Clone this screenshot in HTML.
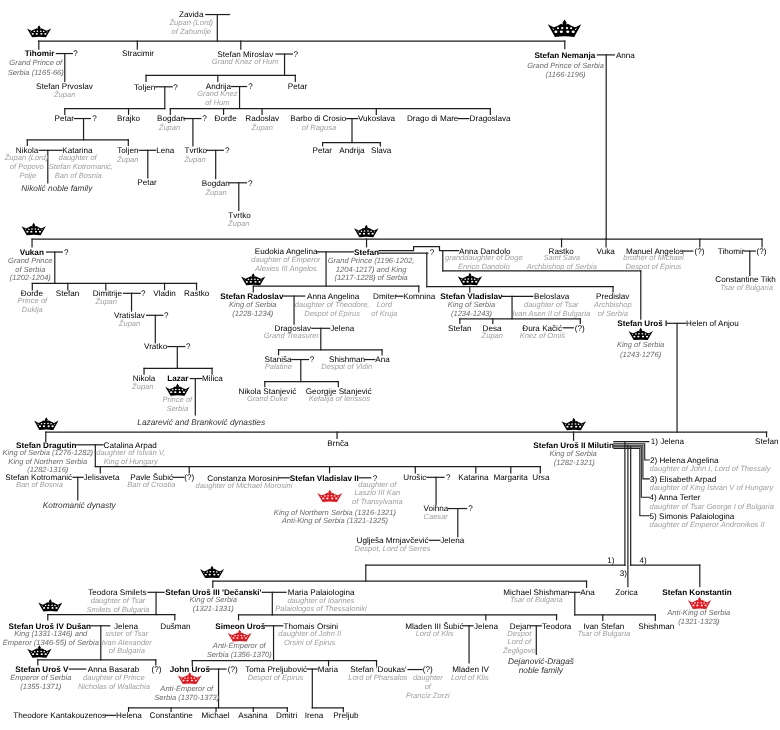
<!DOCTYPE html><html><head><meta charset="utf-8"><style>html,body{margin:0;padding:0;background:#fff;}svg{display:block;filter:blur(0.45px);}text{font-family:"Liberation Sans",sans-serif;text-rendering:geometricPrecision;}.n{font-size:8.12px;fill:#000;}.b{font-size:8.12px;font-weight:bold;fill:#000;}.g{font-size:7.55px;font-style:italic;fill:#a0a0a0;}.r{font-size:7.55px;font-style:italic;fill:#6a6a6a;}.i{font-size:8.3px;font-style:italic;fill:#333;}</style></head><body>
<svg width="780" height="730" viewBox="0 0 780 730">
<rect width="780" height="730" fill="#fff"/>
<g transform="translate(0.3,0.3)">
<g stroke="#1e1e1e" stroke-width="1.2" fill="none" stroke-linecap="square">
<path d="M205.50,14.25H229.25"/>
<path d="M217.00,14.25V40.75"/>
<path d="M38.25,40.75H564.50"/>
<path d="M38.50,40.75V48.75"/>
<path d="M137.00,40.75V48.75"/>
<path d="M240.50,40.75V48.75"/>
<path d="M564.50,40.75V48.25"/>
<path d="M56.00,53.25H72.00"/>
<path d="M64.50,53.25V81.00"/>
<path d="M275.75,53.75H292.00"/>
<path d="M284.25,53.75V75.00"/>
<path d="M145.75,75.00H295.00"/>
<path d="M145.75,75.00V81.00"/>
<path d="M217.50,75.00V81.00"/>
<path d="M295.00,75.00V81.00"/>
<path d="M155.00,86.50H172.00"/>
<path d="M164.50,86.50V108.25"/>
<path d="M64.50,108.25H164.50"/>
<path d="M64.50,108.25V114.00"/>
<path d="M128.25,108.25V114.00"/>
<path d="M231.25,86.25H246.25"/>
<path d="M239.25,86.25V108.25"/>
<path d="M170.00,108.25H490.00"/>
<path d="M170.00,108.25V114.00"/>
<path d="M223.25,108.25V114.00"/>
<path d="M261.75,108.25V114.00"/>
<path d="M376.00,108.25V114.00"/>
<path d="M490.00,108.25V114.00"/>
<path d="M74.25,118.25H90.00"/>
<path d="M83.25,118.25V139.50"/>
<path d="M27.00,139.50H128.00"/>
<path d="M27.00,139.50V145.00"/>
<path d="M128.00,139.50V145.00"/>
<path d="M183.70,118.25H200.60"/>
<path d="M192.60,118.25V145.60"/>
<path d="M346.50,118.30H357.50"/>
<path d="M351.70,118.30V142.30"/>
<path d="M322.30,142.30H380.00"/>
<path d="M322.30,142.30V145.50"/>
<path d="M380.00,142.30V145.50"/>
<path d="M458.00,118.30H468.50"/>
<path d="M39.00,150.00H61.50"/>
<path d="M47.50,150.00V182.50"/>
<path d="M139.00,150.00H155.50"/>
<path d="M147.50,150.00V177.50"/>
<path d="M206.50,150.00H223.00"/>
<path d="M215.40,150.00V178.30"/>
<path d="M229.00,182.50H246.20"/>
<path d="M238.50,182.50V210.00"/>
<path d="M597.00,54.60H614.00"/>
<path d="M605.90,54.60V238.75"/>
<path d="M31.75,238.75H761.75"/>
<path d="M31.75,238.75V246.50"/>
<path d="M366.25,238.75V246.50"/>
<path d="M561.25,238.75V246.50"/>
<path d="M605.75,238.75V246.50"/>
<path d="M699.50,238.75V246.50"/>
<path d="M761.75,238.75V246.50"/>
<path d="M46.25,251.75H62.00"/>
<path d="M54.50,251.75V283.00"/>
<path d="M32.00,283.00H196.25"/>
<path d="M32.00,283.00V289.50"/>
<path d="M67.50,283.00V289.50"/>
<path d="M105.50,283.00V289.50"/>
<path d="M164.25,283.00V289.50"/>
<path d="M196.25,283.00V289.50"/>
<path d="M123.25,293.00H140.00"/>
<path d="M131.25,293.00V310.75"/>
<path d="M146.25,315.00H162.50"/>
<path d="M155.00,315.00V342.50"/>
<path d="M167.50,346.25H184.50"/>
<path d="M177.00,346.25V368.00"/>
<path d="M143.75,368.00H211.75"/>
<path d="M143.75,368.00V373.75"/>
<path d="M211.75,368.00V373.75"/>
<path d="M190.00,378.25H201.25"/>
<path d="M195.00,378.25V414.50"/>
<path d="M316.50,251.50H353.00"/>
<path d="M325.75,251.50V285.75"/>
<path d="M253.00,285.75H418.50"/>
<path d="M253.00,285.75V291.50"/>
<path d="M418.50,285.75V291.50"/>
<path d="M378.7,250.4 H413.3 V246.4 H439.2 V250.4 H458.3"/>
<path d="M378.70,252.80H427.50"/>
<path d="M426.50,252.80V286.25"/>
<path d="M426.50,286.25H612.75"/>
<path d="M469.50,286.25V291.50"/>
<path d="M612.75,286.25V291.50"/>
<path d="M442.50,250.40V270.50"/>
<path d="M442.50,270.50H640.50"/>
<path d="M640.50,270.50V318.75"/>
<path d="M682.50,250.75H692.50"/>
<path d="M743.75,250.75H755.00"/>
<path d="M749.50,250.75V275.00"/>
<path d="M283.50,295.75H304.50"/>
<path d="M293.75,295.75V323.75"/>
<path d="M395.80,295.90H402.30"/>
<path d="M502.30,296.00H532.50"/>
<path d="M511.75,296.00V318.50"/>
<path d="M459.50,318.50H580.00"/>
<path d="M459.50,318.50V323.00"/>
<path d="M492.50,318.50V323.00"/>
<path d="M580.00,318.50V323.00"/>
<path d="M563.00,327.50H573.00"/>
<path d="M667.30,323.00H685.30"/>
<path d="M676.75,323.00V431.75"/>
<path d="M311.50,328.00H329.25"/>
<path d="M320.50,328.00V349.50"/>
<path d="M278.25,349.50H381.75"/>
<path d="M278.25,349.50V354.50"/>
<path d="M381.75,349.50V354.50"/>
<path d="M291.50,359.25H308.25"/>
<path d="M300.50,359.25V381.25"/>
<path d="M264.50,381.25H338.00"/>
<path d="M264.50,381.25V386.25"/>
<path d="M338.00,381.25V386.25"/>
<path d="M364.50,359.25H374.50"/>
<path d="M45.50,431.75H766.25"/>
<path d="M45.50,431.75V441.00"/>
<path d="M336.75,431.75V438.00"/>
<path d="M573.25,431.75V440.00"/>
<path d="M766.25,431.75V436.50"/>
<path d="M76.50,444.50H102.75"/>
<path d="M95.00,444.50V466.25"/>
<path d="M95.00,466.25H540.00"/>
<path d="M100.00,466.25V472.50"/>
<path d="M188.90,466.25V472.50"/>
<path d="M329.25,466.25V472.50"/>
<path d="M415.00,466.25V472.50"/>
<path d="M475.50,466.25V472.50"/>
<path d="M510.50,466.25V472.50"/>
<path d="M540.00,466.25V472.50"/>
<path d="M72.75,477.00H82.75"/>
<path d="M77.50,477.00V499.50"/>
<path d="M172.75,477.00H183.50"/>
<path d="M278.30,477.50H288.90"/>
<path d="M359.00,477.50H370.50"/>
<path d="M426.50,477.00H443.75"/>
<path d="M435.75,477.00V504.50"/>
<path d="M448.30,508.25H466.25"/>
<path d="M457.50,508.25V536.25"/>
<path d="M429.00,540.00H439.50"/>
<path d="M613.50,441.30H648.50" stroke-width="1.1"/>
<path d="M613.5,443.5 H644.4 V459.7 H649" stroke-width="1.1"/>
<path d="M613.5,445.0 H642.6 V478.6 H649" stroke-width="1.1"/>
<path d="M613.5,446.6 H641.0 V497.0 H649" stroke-width="1.1"/>
<path d="M613.5,448.2 H639.5 V515.5 H649" stroke-width="1.1"/>
<path d="M624.60,441.30V565.20" stroke-width="1.2"/>
<path d="M627.60,445.00V586.25" stroke-width="1.2"/>
<path d="M630.40,446.60V565.20" stroke-width="1.2"/>
<path d="M365.50,564.75H624.60"/>
<path d="M630.40,564.75H699.50"/>
<path d="M699.50,564.75V586.25"/>
<path d="M365.50,564.75V580.90"/>
<path d="M212.50,580.90H586.25"/>
<path d="M212.50,580.90V587.00"/>
<path d="M586.25,580.90V587.00"/>
<path d="M147.75,592.00H163.75"/>
<path d="M155.75,592.00V614.25"/>
<path d="M47.50,614.25H174.50"/>
<path d="M47.50,614.25V619.50"/>
<path d="M174.50,614.25V619.50"/>
<path d="M262.00,592.00H285.75"/>
<path d="M272.00,592.00V614.50"/>
<path d="M238.25,614.50H556.25"/>
<path d="M238.25,614.50V619.50"/>
<path d="M485.50,614.50V619.50"/>
<path d="M556.25,614.50V619.50"/>
<path d="M569.50,592.00H579.50"/>
<path d="M574.50,592.00V614.50"/>
<path d="M574.50,614.50H655.00"/>
<path d="M602.50,614.50V620.00"/>
<path d="M655.00,614.50V620.00"/>
<path d="M90.75,625.50H109.50"/>
<path d="M100.50,625.50V659.50"/>
<path d="M37.50,659.50H155.50"/>
<path d="M37.50,659.50V664.50"/>
<path d="M155.50,659.50V664.50"/>
<path d="M69.00,668.75H85.50"/>
<path d="M264.75,625.50H282.50"/>
<path d="M273.25,625.50V660.25"/>
<path d="M192.00,660.25H376.25"/>
<path d="M192.00,660.25V665.50"/>
<path d="M328.25,660.25V665.50"/>
<path d="M376.25,660.25V665.50"/>
<path d="M462.75,625.50H472.75"/>
<path d="M468.75,625.50V662.50"/>
<path d="M530.25,625.50H541.00"/>
<path d="M536.00,625.50V654.00"/>
<path d="M209.50,668.75H225.75"/>
<path d="M218.25,668.75V707.50"/>
<path d="M128.25,707.50H287.00"/>
<path d="M128.25,707.50V711.00"/>
<path d="M170.75,707.50V711.00"/>
<path d="M215.75,707.50V711.00"/>
<path d="M253.00,707.50V711.00"/>
<path d="M287.00,707.50V711.00"/>
<path d="M105.25,715.00H115.25"/>
<path d="M307.00,668.75H317.00"/>
<path d="M312.00,668.75V707.50"/>
<path d="M312.00,707.50H343.00"/>
<path d="M343.00,707.50V711.25"/>
<path d="M407.75,669.25H421.75"/>
</g>
<g transform="translate(26.70,25.00) scale(1.0042,1.0000)" fill="#000"><path d="M0,3.2 L3.4,5.0 L4.6,5.4 L5.8,4.8 L7.2,4.3 L8.6,3.4 L9.8,3.0 L11.0,3.6 L10.5,2.3 L12,0 L13.5,2.3 L13.0,3.6 L14.2,3.0 L15.4,3.4 L16.8,4.3 L18.2,4.8 L19.4,5.4 L20.6,5.0 L24,3.2 L18.9,12 Q12,11.1 5.1,12 Z"/><g fill="#fff"><ellipse cx="5.8" cy="8.5" rx="1.1" ry="0.85"/><ellipse cx="9.7" cy="8.5" rx="1.1" ry="0.85"/><ellipse cx="14.3" cy="8.5" rx="1.1" ry="0.85"/><ellipse cx="18.2" cy="8.5" rx="1.1" ry="0.85"/><ellipse cx="7.3" cy="6.1" rx="0.8" ry="0.7"/><ellipse cx="10.3" cy="5.9" rx="0.85" ry="0.75"/><ellipse cx="13.7" cy="5.9" rx="0.85" ry="0.75"/><ellipse cx="16.7" cy="6.1" rx="0.8" ry="0.7"/><path d="M3.2,5.6 L4.6,6.9 L3.9,7.3 Z"/><path d="M20.8,5.6 L19.4,6.9 L20.1,7.3 Z"/></g></g>
<g transform="translate(547.50,19.20) scale(1.3958,1.4500)" fill="#000"><path d="M0,3.2 L3.4,5.0 L4.6,5.4 L5.8,4.8 L7.2,4.3 L8.6,3.4 L9.8,3.0 L11.0,3.6 L10.5,2.3 L12,0 L13.5,2.3 L13.0,3.6 L14.2,3.0 L15.4,3.4 L16.8,4.3 L18.2,4.8 L19.4,5.4 L20.6,5.0 L24,3.2 L18.9,12 Q12,11.1 5.1,12 Z"/><g fill="#fff"><ellipse cx="5.8" cy="8.5" rx="1.1" ry="0.85"/><ellipse cx="9.7" cy="8.5" rx="1.1" ry="0.85"/><ellipse cx="14.3" cy="8.5" rx="1.1" ry="0.85"/><ellipse cx="18.2" cy="8.5" rx="1.1" ry="0.85"/><ellipse cx="7.3" cy="6.1" rx="0.8" ry="0.7"/><ellipse cx="10.3" cy="5.9" rx="0.85" ry="0.75"/><ellipse cx="13.7" cy="5.9" rx="0.85" ry="0.75"/><ellipse cx="16.7" cy="6.1" rx="0.8" ry="0.7"/><path d="M3.2,5.6 L4.6,6.9 L3.9,7.3 Z"/><path d="M20.8,5.6 L19.4,6.9 L20.1,7.3 Z"/></g></g>
<g transform="translate(21.25,222.50) scale(1.0104,1.0417)" fill="#000"><path d="M0,3.2 L3.4,5.0 L4.6,5.4 L5.8,4.8 L7.2,4.3 L8.6,3.4 L9.8,3.0 L11.0,3.6 L10.5,2.3 L12,0 L13.5,2.3 L13.0,3.6 L14.2,3.0 L15.4,3.4 L16.8,4.3 L18.2,4.8 L19.4,5.4 L20.6,5.0 L24,3.2 L18.9,12 Q12,11.1 5.1,12 Z"/><g fill="#fff"><ellipse cx="5.8" cy="8.5" rx="1.1" ry="0.85"/><ellipse cx="9.7" cy="8.5" rx="1.1" ry="0.85"/><ellipse cx="14.3" cy="8.5" rx="1.1" ry="0.85"/><ellipse cx="18.2" cy="8.5" rx="1.1" ry="0.85"/><ellipse cx="7.3" cy="6.1" rx="0.8" ry="0.7"/><ellipse cx="10.3" cy="5.9" rx="0.85" ry="0.75"/><ellipse cx="13.7" cy="5.9" rx="0.85" ry="0.75"/><ellipse cx="16.7" cy="6.1" rx="0.8" ry="0.7"/><path d="M3.2,5.6 L4.6,6.9 L3.9,7.3 Z"/><path d="M20.8,5.6 L19.4,6.9 L20.1,7.3 Z"/></g></g>
<g transform="translate(165.00,383.25) scale(1.0208,1.0208)" fill="#000"><path d="M0,3.2 L3.4,5.0 L4.6,5.4 L5.8,4.8 L7.2,4.3 L8.6,3.4 L9.8,3.0 L11.0,3.6 L10.5,2.3 L12,0 L13.5,2.3 L13.0,3.6 L14.2,3.0 L15.4,3.4 L16.8,4.3 L18.2,4.8 L19.4,5.4 L20.6,5.0 L24,3.2 L18.9,12 Q12,11.1 5.1,12 Z"/><g fill="#fff"><ellipse cx="5.8" cy="8.5" rx="1.1" ry="0.85"/><ellipse cx="9.7" cy="8.5" rx="1.1" ry="0.85"/><ellipse cx="14.3" cy="8.5" rx="1.1" ry="0.85"/><ellipse cx="18.2" cy="8.5" rx="1.1" ry="0.85"/><ellipse cx="7.3" cy="6.1" rx="0.8" ry="0.7"/><ellipse cx="10.3" cy="5.9" rx="0.85" ry="0.75"/><ellipse cx="13.7" cy="5.9" rx="0.85" ry="0.75"/><ellipse cx="16.7" cy="6.1" rx="0.8" ry="0.7"/><path d="M3.2,5.6 L4.6,6.9 L3.9,7.3 Z"/><path d="M20.8,5.6 L19.4,6.9 L20.1,7.3 Z"/></g></g>
<g transform="translate(353.75,224.50) scale(1.0208,1.0417)" fill="#000"><path d="M0,3.2 L3.4,5.0 L4.6,5.4 L5.8,4.8 L7.2,4.3 L8.6,3.4 L9.8,3.0 L11.0,3.6 L10.5,2.3 L12,0 L13.5,2.3 L13.0,3.6 L14.2,3.0 L15.4,3.4 L16.8,4.3 L18.2,4.8 L19.4,5.4 L20.6,5.0 L24,3.2 L18.9,12 Q12,11.1 5.1,12 Z"/><g fill="#fff"><ellipse cx="5.8" cy="8.5" rx="1.1" ry="0.85"/><ellipse cx="9.7" cy="8.5" rx="1.1" ry="0.85"/><ellipse cx="14.3" cy="8.5" rx="1.1" ry="0.85"/><ellipse cx="18.2" cy="8.5" rx="1.1" ry="0.85"/><ellipse cx="7.3" cy="6.1" rx="0.8" ry="0.7"/><ellipse cx="10.3" cy="5.9" rx="0.85" ry="0.75"/><ellipse cx="13.7" cy="5.9" rx="0.85" ry="0.75"/><ellipse cx="16.7" cy="6.1" rx="0.8" ry="0.7"/><path d="M3.2,5.6 L4.6,6.9 L3.9,7.3 Z"/><path d="M20.8,5.6 L19.4,6.9 L20.1,7.3 Z"/></g></g>
<g transform="translate(240.75,273.00) scale(1.0104,1.0000)" fill="#000"><path d="M0,3.2 L3.4,5.0 L4.6,5.4 L5.8,4.8 L7.2,4.3 L8.6,3.4 L9.8,3.0 L11.0,3.6 L10.5,2.3 L12,0 L13.5,2.3 L13.0,3.6 L14.2,3.0 L15.4,3.4 L16.8,4.3 L18.2,4.8 L19.4,5.4 L20.6,5.0 L24,3.2 L18.9,12 Q12,11.1 5.1,12 Z"/><g fill="#fff"><ellipse cx="5.8" cy="8.5" rx="1.1" ry="0.85"/><ellipse cx="9.7" cy="8.5" rx="1.1" ry="0.85"/><ellipse cx="14.3" cy="8.5" rx="1.1" ry="0.85"/><ellipse cx="18.2" cy="8.5" rx="1.1" ry="0.85"/><ellipse cx="7.3" cy="6.1" rx="0.8" ry="0.7"/><ellipse cx="10.3" cy="5.9" rx="0.85" ry="0.75"/><ellipse cx="13.7" cy="5.9" rx="0.85" ry="0.75"/><ellipse cx="16.7" cy="6.1" rx="0.8" ry="0.7"/><path d="M3.2,5.6 L4.6,6.9 L3.9,7.3 Z"/><path d="M20.8,5.6 L19.4,6.9 L20.1,7.3 Z"/></g></g>
<g transform="translate(457.50,272.50) scale(1.0104,1.0417)" fill="#000"><path d="M0,3.2 L3.4,5.0 L4.6,5.4 L5.8,4.8 L7.2,4.3 L8.6,3.4 L9.8,3.0 L11.0,3.6 L10.5,2.3 L12,0 L13.5,2.3 L13.0,3.6 L14.2,3.0 L15.4,3.4 L16.8,4.3 L18.2,4.8 L19.4,5.4 L20.6,5.0 L24,3.2 L18.9,12 Q12,11.1 5.1,12 Z"/><g fill="#fff"><ellipse cx="5.8" cy="8.5" rx="1.1" ry="0.85"/><ellipse cx="9.7" cy="8.5" rx="1.1" ry="0.85"/><ellipse cx="14.3" cy="8.5" rx="1.1" ry="0.85"/><ellipse cx="18.2" cy="8.5" rx="1.1" ry="0.85"/><ellipse cx="7.3" cy="6.1" rx="0.8" ry="0.7"/><ellipse cx="10.3" cy="5.9" rx="0.85" ry="0.75"/><ellipse cx="13.7" cy="5.9" rx="0.85" ry="0.75"/><ellipse cx="16.7" cy="6.1" rx="0.8" ry="0.7"/><path d="M3.2,5.6 L4.6,6.9 L3.9,7.3 Z"/><path d="M20.8,5.6 L19.4,6.9 L20.1,7.3 Z"/></g></g>
<g transform="translate(628.20,327.50) scale(1.0167,1.0250)" fill="#000"><path d="M0,3.2 L3.4,5.0 L4.6,5.4 L5.8,4.8 L7.2,4.3 L8.6,3.4 L9.8,3.0 L11.0,3.6 L10.5,2.3 L12,0 L13.5,2.3 L13.0,3.6 L14.2,3.0 L15.4,3.4 L16.8,4.3 L18.2,4.8 L19.4,5.4 L20.6,5.0 L24,3.2 L18.9,12 Q12,11.1 5.1,12 Z"/><g fill="#fff"><ellipse cx="5.8" cy="8.5" rx="1.1" ry="0.85"/><ellipse cx="9.7" cy="8.5" rx="1.1" ry="0.85"/><ellipse cx="14.3" cy="8.5" rx="1.1" ry="0.85"/><ellipse cx="18.2" cy="8.5" rx="1.1" ry="0.85"/><ellipse cx="7.3" cy="6.1" rx="0.8" ry="0.7"/><ellipse cx="10.3" cy="5.9" rx="0.85" ry="0.75"/><ellipse cx="13.7" cy="5.9" rx="0.85" ry="0.75"/><ellipse cx="16.7" cy="6.1" rx="0.8" ry="0.7"/><path d="M3.2,5.6 L4.6,6.9 L3.9,7.3 Z"/><path d="M20.8,5.6 L19.4,6.9 L20.1,7.3 Z"/></g></g>
<g transform="translate(33.80,416.90) scale(1.0167,1.0667)" fill="#000"><path d="M0,3.2 L3.4,5.0 L4.6,5.4 L5.8,4.8 L7.2,4.3 L8.6,3.4 L9.8,3.0 L11.0,3.6 L10.5,2.3 L12,0 L13.5,2.3 L13.0,3.6 L14.2,3.0 L15.4,3.4 L16.8,4.3 L18.2,4.8 L19.4,5.4 L20.6,5.0 L24,3.2 L18.9,12 Q12,11.1 5.1,12 Z"/><g fill="#fff"><ellipse cx="5.8" cy="8.5" rx="1.1" ry="0.85"/><ellipse cx="9.7" cy="8.5" rx="1.1" ry="0.85"/><ellipse cx="14.3" cy="8.5" rx="1.1" ry="0.85"/><ellipse cx="18.2" cy="8.5" rx="1.1" ry="0.85"/><ellipse cx="7.3" cy="6.1" rx="0.8" ry="0.7"/><ellipse cx="10.3" cy="5.9" rx="0.85" ry="0.75"/><ellipse cx="13.7" cy="5.9" rx="0.85" ry="0.75"/><ellipse cx="16.7" cy="6.1" rx="0.8" ry="0.7"/><path d="M3.2,5.6 L4.6,6.9 L3.9,7.3 Z"/><path d="M20.8,5.6 L19.4,6.9 L20.1,7.3 Z"/></g></g>
<g transform="translate(317.00,489.50) scale(1.0417,1.0208)" fill="#e8141c"><path d="M0,3.2 L3.4,5.0 L4.6,5.4 L5.8,4.8 L7.2,4.3 L8.6,3.4 L9.8,3.0 L11.0,3.6 L10.5,2.3 L12,0 L13.5,2.3 L13.0,3.6 L14.2,3.0 L15.4,3.4 L16.8,4.3 L18.2,4.8 L19.4,5.4 L20.6,5.0 L24,3.2 L18.9,12 Q12,11.1 5.1,12 Z"/><g fill="#fff"><ellipse cx="5.8" cy="8.5" rx="1.1" ry="0.85"/><ellipse cx="9.7" cy="8.5" rx="1.1" ry="0.85"/><ellipse cx="14.3" cy="8.5" rx="1.1" ry="0.85"/><ellipse cx="18.2" cy="8.5" rx="1.1" ry="0.85"/><ellipse cx="7.3" cy="6.1" rx="0.8" ry="0.7"/><ellipse cx="10.3" cy="5.9" rx="0.85" ry="0.75"/><ellipse cx="13.7" cy="5.9" rx="0.85" ry="0.75"/><ellipse cx="16.7" cy="6.1" rx="0.8" ry="0.7"/><path d="M3.2,5.6 L4.6,6.9 L3.9,7.3 Z"/><path d="M20.8,5.6 L19.4,6.9 L20.1,7.3 Z"/></g></g>
<g transform="translate(561.25,417.50) scale(1.0208,1.0417)" fill="#000"><path d="M0,3.2 L3.4,5.0 L4.6,5.4 L5.8,4.8 L7.2,4.3 L8.6,3.4 L9.8,3.0 L11.0,3.6 L10.5,2.3 L12,0 L13.5,2.3 L13.0,3.6 L14.2,3.0 L15.4,3.4 L16.8,4.3 L18.2,4.8 L19.4,5.4 L20.6,5.0 L24,3.2 L18.9,12 Q12,11.1 5.1,12 Z"/><g fill="#fff"><ellipse cx="5.8" cy="8.5" rx="1.1" ry="0.85"/><ellipse cx="9.7" cy="8.5" rx="1.1" ry="0.85"/><ellipse cx="14.3" cy="8.5" rx="1.1" ry="0.85"/><ellipse cx="18.2" cy="8.5" rx="1.1" ry="0.85"/><ellipse cx="7.3" cy="6.1" rx="0.8" ry="0.7"/><ellipse cx="10.3" cy="5.9" rx="0.85" ry="0.75"/><ellipse cx="13.7" cy="5.9" rx="0.85" ry="0.75"/><ellipse cx="16.7" cy="6.1" rx="0.8" ry="0.7"/><path d="M3.2,5.6 L4.6,6.9 L3.9,7.3 Z"/><path d="M20.8,5.6 L19.4,6.9 L20.1,7.3 Z"/></g></g>
<g transform="translate(199.70,565.50) scale(1.0042,1.0250)" fill="#000"><path d="M0,3.2 L3.4,5.0 L4.6,5.4 L5.8,4.8 L7.2,4.3 L8.6,3.4 L9.8,3.0 L11.0,3.6 L10.5,2.3 L12,0 L13.5,2.3 L13.0,3.6 L14.2,3.0 L15.4,3.4 L16.8,4.3 L18.2,4.8 L19.4,5.4 L20.6,5.0 L24,3.2 L18.9,12 Q12,11.1 5.1,12 Z"/><g fill="#fff"><ellipse cx="5.8" cy="8.5" rx="1.1" ry="0.85"/><ellipse cx="9.7" cy="8.5" rx="1.1" ry="0.85"/><ellipse cx="14.3" cy="8.5" rx="1.1" ry="0.85"/><ellipse cx="18.2" cy="8.5" rx="1.1" ry="0.85"/><ellipse cx="7.3" cy="6.1" rx="0.8" ry="0.7"/><ellipse cx="10.3" cy="5.9" rx="0.85" ry="0.75"/><ellipse cx="13.7" cy="5.9" rx="0.85" ry="0.75"/><ellipse cx="16.7" cy="6.1" rx="0.8" ry="0.7"/><path d="M3.2,5.6 L4.6,6.9 L3.9,7.3 Z"/><path d="M20.8,5.6 L19.4,6.9 L20.1,7.3 Z"/></g></g>
<g transform="translate(687.60,596.60) scale(0.9708,1.0000)" fill="#e8141c"><path d="M0,3.2 L3.4,5.0 L4.6,5.4 L5.8,4.8 L7.2,4.3 L8.6,3.4 L9.8,3.0 L11.0,3.6 L10.5,2.3 L12,0 L13.5,2.3 L13.0,3.6 L14.2,3.0 L15.4,3.4 L16.8,4.3 L18.2,4.8 L19.4,5.4 L20.6,5.0 L24,3.2 L18.9,12 Q12,11.1 5.1,12 Z"/><g fill="#fff"><ellipse cx="5.8" cy="8.5" rx="1.1" ry="0.85"/><ellipse cx="9.7" cy="8.5" rx="1.1" ry="0.85"/><ellipse cx="14.3" cy="8.5" rx="1.1" ry="0.85"/><ellipse cx="18.2" cy="8.5" rx="1.1" ry="0.85"/><ellipse cx="7.3" cy="6.1" rx="0.8" ry="0.7"/><ellipse cx="10.3" cy="5.9" rx="0.85" ry="0.75"/><ellipse cx="13.7" cy="5.9" rx="0.85" ry="0.75"/><ellipse cx="16.7" cy="6.1" rx="0.8" ry="0.7"/><path d="M3.2,5.6 L4.6,6.9 L3.9,7.3 Z"/><path d="M20.8,5.6 L19.4,6.9 L20.1,7.3 Z"/></g></g>
<g transform="translate(38.00,598.75) scale(1.0000,1.0417)" fill="#000"><path d="M0,3.2 L3.4,5.0 L4.6,5.4 L5.8,4.8 L7.2,4.3 L8.6,3.4 L9.8,3.0 L11.0,3.6 L10.5,2.3 L12,0 L13.5,2.3 L13.0,3.6 L14.2,3.0 L15.4,3.4 L16.8,4.3 L18.2,4.8 L19.4,5.4 L20.6,5.0 L24,3.2 L18.9,12 Q12,11.1 5.1,12 Z"/><g fill="#fff"><ellipse cx="5.8" cy="8.5" rx="1.1" ry="0.85"/><ellipse cx="9.7" cy="8.5" rx="1.1" ry="0.85"/><ellipse cx="14.3" cy="8.5" rx="1.1" ry="0.85"/><ellipse cx="18.2" cy="8.5" rx="1.1" ry="0.85"/><ellipse cx="7.3" cy="6.1" rx="0.8" ry="0.7"/><ellipse cx="10.3" cy="5.9" rx="0.85" ry="0.75"/><ellipse cx="13.7" cy="5.9" rx="0.85" ry="0.75"/><ellipse cx="16.7" cy="6.1" rx="0.8" ry="0.7"/><path d="M3.2,5.6 L4.6,6.9 L3.9,7.3 Z"/><path d="M20.8,5.6 L19.4,6.9 L20.1,7.3 Z"/></g></g>
<g transform="translate(27.00,645.00) scale(1.0104,1.0417)" fill="#000"><path d="M0,3.2 L3.4,5.0 L4.6,5.4 L5.8,4.8 L7.2,4.3 L8.6,3.4 L9.8,3.0 L11.0,3.6 L10.5,2.3 L12,0 L13.5,2.3 L13.0,3.6 L14.2,3.0 L15.4,3.4 L16.8,4.3 L18.2,4.8 L19.4,5.4 L20.6,5.0 L24,3.2 L18.9,12 Q12,11.1 5.1,12 Z"/><g fill="#fff"><ellipse cx="5.8" cy="8.5" rx="1.1" ry="0.85"/><ellipse cx="9.7" cy="8.5" rx="1.1" ry="0.85"/><ellipse cx="14.3" cy="8.5" rx="1.1" ry="0.85"/><ellipse cx="18.2" cy="8.5" rx="1.1" ry="0.85"/><ellipse cx="7.3" cy="6.1" rx="0.8" ry="0.7"/><ellipse cx="10.3" cy="5.9" rx="0.85" ry="0.75"/><ellipse cx="13.7" cy="5.9" rx="0.85" ry="0.75"/><ellipse cx="16.7" cy="6.1" rx="0.8" ry="0.7"/><path d="M3.2,5.6 L4.6,6.9 L3.9,7.3 Z"/><path d="M20.8,5.6 L19.4,6.9 L20.1,7.3 Z"/></g></g>
<g transform="translate(227.50,629.50) scale(0.9896,0.9792)" fill="#e8141c"><path d="M0,3.2 L3.4,5.0 L4.6,5.4 L5.8,4.8 L7.2,4.3 L8.6,3.4 L9.8,3.0 L11.0,3.6 L10.5,2.3 L12,0 L13.5,2.3 L13.0,3.6 L14.2,3.0 L15.4,3.4 L16.8,4.3 L18.2,4.8 L19.4,5.4 L20.6,5.0 L24,3.2 L18.9,12 Q12,11.1 5.1,12 Z"/><g fill="#fff"><ellipse cx="5.8" cy="8.5" rx="1.1" ry="0.85"/><ellipse cx="9.7" cy="8.5" rx="1.1" ry="0.85"/><ellipse cx="14.3" cy="8.5" rx="1.1" ry="0.85"/><ellipse cx="18.2" cy="8.5" rx="1.1" ry="0.85"/><ellipse cx="7.3" cy="6.1" rx="0.8" ry="0.7"/><ellipse cx="10.3" cy="5.9" rx="0.85" ry="0.75"/><ellipse cx="13.7" cy="5.9" rx="0.85" ry="0.75"/><ellipse cx="16.7" cy="6.1" rx="0.8" ry="0.7"/><path d="M3.2,5.6 L4.6,6.9 L3.9,7.3 Z"/><path d="M20.8,5.6 L19.4,6.9 L20.1,7.3 Z"/></g></g>
<g transform="translate(177.50,672.00) scale(0.9896,0.9792)" fill="#e8141c"><path d="M0,3.2 L3.4,5.0 L4.6,5.4 L5.8,4.8 L7.2,4.3 L8.6,3.4 L9.8,3.0 L11.0,3.6 L10.5,2.3 L12,0 L13.5,2.3 L13.0,3.6 L14.2,3.0 L15.4,3.4 L16.8,4.3 L18.2,4.8 L19.4,5.4 L20.6,5.0 L24,3.2 L18.9,12 Q12,11.1 5.1,12 Z"/><g fill="#fff"><ellipse cx="5.8" cy="8.5" rx="1.1" ry="0.85"/><ellipse cx="9.7" cy="8.5" rx="1.1" ry="0.85"/><ellipse cx="14.3" cy="8.5" rx="1.1" ry="0.85"/><ellipse cx="18.2" cy="8.5" rx="1.1" ry="0.85"/><ellipse cx="7.3" cy="6.1" rx="0.8" ry="0.7"/><ellipse cx="10.3" cy="5.9" rx="0.85" ry="0.75"/><ellipse cx="13.7" cy="5.9" rx="0.85" ry="0.75"/><ellipse cx="16.7" cy="6.1" rx="0.8" ry="0.7"/><path d="M3.2,5.6 L4.6,6.9 L3.9,7.3 Z"/><path d="M20.8,5.6 L19.4,6.9 L20.1,7.3 Z"/></g></g>
<text class="n" x="178.75" y="17.15">Zavida</text>
<text class="g" x="191.00" y="24.45" text-anchor="middle">Župan (Lord)</text>
<text class="g" x="191.00" y="33.25" text-anchor="middle">of Zahumlje</text>
<text class="b" x="24.50" y="56.15">Tihomir</text>
<text class="n" x="73.00" y="56.15">?</text>
<text class="r" x="35.50" y="65.20" text-anchor="middle">Grand Prince of</text>
<text class="r" x="35.50" y="74.45" text-anchor="middle">Serbia (1165-66)</text>
<text class="n" x="35.75" y="89.15">Stefan Prvoslav</text>
<text class="g" x="64.40" y="97.20" text-anchor="middle">Župan</text>
<text class="n" x="121.75" y="56.15">Stracimir</text>
<text class="n" x="217.00" y="56.65">Stefan Miroslav</text>
<text class="g" x="244.90" y="63.45" text-anchor="middle">Grand Knez of Hum</text>
<text class="n" x="293.25" y="56.65">?</text>
<text class="n" x="133.75" y="89.40">Toljen</text>
<text class="n" x="173.00" y="89.40">?</text>
<text class="n" x="205.50" y="89.15">Andrija</text>
<text class="g" x="217.00" y="95.95" text-anchor="middle">Grand Knez</text>
<text class="g" x="217.00" y="104.45" text-anchor="middle">of Hum</text>
<text class="n" x="248.00" y="89.15">?</text>
<text class="n" x="287.50" y="89.15">Petar</text>
<text class="n" x="54.25" y="121.15">Petar</text>
<text class="n" x="92.00" y="121.15">?</text>
<text class="n" x="116.75" y="121.15">Brajko</text>
<text class="n" x="156.75" y="121.15">Bogdan</text>
<text class="g" x="169.20" y="130.00" text-anchor="middle">Župan</text>
<text class="n" x="201.90" y="121.15">?</text>
<text class="n" x="214.25" y="121.15">Đorđe</text>
<text class="n" x="245.00" y="121.15">Radoslav</text>
<text class="g" x="262.00" y="129.70" text-anchor="middle">Župan</text>
<text class="n" x="290.00" y="121.20">Barbo di Crosio</text>
<text class="g" x="318.70" y="129.40" text-anchor="middle">of Ragusa</text>
<text class="n" x="357.70" y="121.20">Vukoslava</text>
<text class="n" x="312.30" y="152.90">Petar</text>
<text class="n" x="339.00" y="152.90">Andrija</text>
<text class="n" x="370.70" y="152.90">Slava</text>
<text class="n" x="406.70" y="121.20">Drago di Mare</text>
<text class="n" x="469.30" y="121.20">Dragoslava</text>
<text class="n" x="15.50" y="152.90">Nikola</text>
<text class="g" x="26.20" y="159.70" text-anchor="middle">Župan (Lord)</text>
<text class="g" x="26.50" y="168.70" text-anchor="middle">of Popovo</text>
<text class="g" x="27.50" y="177.70" text-anchor="middle">Polje</text>
<text class="n" x="62.00" y="152.90">Katarina</text>
<text class="g" x="77.30" y="159.70" text-anchor="middle">daughter of</text>
<text class="g" x="80.60" y="168.70" text-anchor="middle">Stefan Kotromanić,</text>
<text class="g" x="78.00" y="177.70" text-anchor="middle">Ban of Bosnia</text>
<text class="i" x="21.00" y="191.00">Nikolić noble family</text>
<text class="n" x="117.00" y="152.90">Toljen</text>
<text class="g" x="127.50" y="161.70" text-anchor="middle">Župan</text>
<text class="n" x="156.00" y="152.90">Lena</text>
<text class="n" x="137.00" y="184.90">Petar</text>
<text class="n" x="184.20" y="152.90">Tvrtko</text>
<text class="g" x="194.60" y="161.70" text-anchor="middle">Župan</text>
<text class="n" x="224.60" y="152.90">?</text>
<text class="n" x="201.50" y="185.40">Bogdan</text>
<text class="g" x="215.80" y="194.40" text-anchor="middle">Župan</text>
<text class="n" x="247.70" y="185.40">?</text>
<text class="n" x="227.90" y="217.30">Tvrtko</text>
<text class="g" x="238.50" y="226.20" text-anchor="middle">Župan</text>
<text class="b" x="534.10" y="57.50">Stefan Nemanja</text>
<text class="r" x="565.30" y="68.00" text-anchor="middle">Grand Prince of Serbia</text>
<text class="r" x="565.30" y="77.00" text-anchor="middle">(1166-1196)</text>
<text class="n" x="615.60" y="57.50">Anna</text>
<text class="b" x="19.50" y="254.65">Vukan</text>
<text class="r" x="30.00" y="262.70" text-anchor="middle">Grand Prince</text>
<text class="r" x="30.00" y="271.45" text-anchor="middle">of Serbia</text>
<text class="r" x="30.00" y="280.20" text-anchor="middle">(1202-1204)</text>
<text class="n" x="63.75" y="254.65">?</text>
<text class="n" x="20.50" y="295.90">Đorđe</text>
<text class="g" x="32.00" y="302.70" text-anchor="middle">Prince of</text>
<text class="g" x="32.00" y="311.45" text-anchor="middle">Duklja</text>
<text class="n" x="55.50" y="295.90">Stefan</text>
<text class="n" x="92.50" y="295.90">Dimitrije</text>
<text class="g" x="106.00" y="303.95" text-anchor="middle">Župan</text>
<text class="n" x="140.75" y="295.90">?</text>
<text class="n" x="113.75" y="317.90">Vratislav</text>
<text class="g" x="129.25" y="325.70" text-anchor="middle">Župan</text>
<text class="n" x="163.75" y="317.90">?</text>
<text class="n" x="143.75" y="349.15">Vratko</text>
<text class="n" x="185.75" y="349.15">?</text>
<text class="n" x="132.50" y="381.15">Nikola</text>
<text class="g" x="142.50" y="388.95" text-anchor="middle">Župan</text>
<text class="b" x="167.00" y="381.15">Lazar</text>
<text class="n" x="201.75" y="381.15">Milica</text>
<text class="g" x="177.00" y="401.45" text-anchor="middle">Prince of</text>
<text class="g" x="177.00" y="410.95" text-anchor="middle">Serbia</text>
<text class="i" x="137.00" y="424.25">Lazarević and Branković dynasties</text>
<text class="n" x="153.00" y="295.90">Vladin</text>
<text class="n" x="183.75" y="295.90">Rastko</text>
<text class="b" x="353.80" y="254.40">Stefan</text>
<text class="r" x="370.80" y="262.40" text-anchor="middle">Grand Prince (1196-1202,</text>
<text class="r" x="370.80" y="271.25" text-anchor="middle">1204-1217) and King</text>
<text class="r" x="370.80" y="280.10" text-anchor="middle">(1217-1228) of Serbia</text>
<text class="n" x="254.50" y="254.15">Eudokia Angelina</text>
<text class="g" x="285.60" y="261.95" text-anchor="middle">daughter of Emperor</text>
<text class="g" x="285.60" y="270.70" text-anchor="middle">Alexios III Angelos</text>
<text class="n" x="429.50" y="255.10">?</text>
<text class="n" x="458.75" y="254.15">Anna Dandolo</text>
<text class="g" x="483.50" y="260.20" text-anchor="middle">granddaughter of Doge</text>
<text class="g" x="483.50" y="268.95" text-anchor="middle">Enrico Dandolo</text>
<text class="n" x="548.25" y="254.15">Rastko</text>
<text class="g" x="561.50" y="260.20" text-anchor="middle">Saint Sava</text>
<text class="g" x="561.50" y="268.95" text-anchor="middle">Archbishop of Serbia</text>
<text class="n" x="596.25" y="253.65">Vuka</text>
<text class="n" x="625.75" y="253.65">Manuel Angelos</text>
<text class="n" x="694.25" y="253.65">(?)</text>
<text class="g" x="653.20" y="260.20" text-anchor="middle">brother of Michael</text>
<text class="g" x="653.20" y="268.95" text-anchor="middle">Despot of Epirus</text>
<text class="n" x="717.50" y="253.65">Tihomir</text>
<text class="n" x="756.25" y="253.65">(?)</text>
<text class="n" x="715.00" y="282.15">Constantine Tikh</text>
<text class="g" x="746.25" y="289.70" text-anchor="middle">Tsar of Bulgaria</text>
<text class="b" x="220.00" y="298.65">Stefan Radoslav</text>
<text class="r" x="252.50" y="306.45" text-anchor="middle">King of Serbia</text>
<text class="r" x="252.50" y="315.70" text-anchor="middle">(1228-1234)</text>
<text class="n" x="306.75" y="298.65">Anna Angelina</text>
<text class="g" x="331.80" y="306.95" text-anchor="middle">daughter of Theodore,</text>
<text class="g" x="331.80" y="315.70" text-anchor="middle">Despot of Epirus</text>
<text class="n" x="372.80" y="298.80">Dmiter</text>
<text class="n" x="402.90" y="298.80">Komnina</text>
<text class="g" x="384.00" y="306.80" text-anchor="middle">Lord</text>
<text class="g" x="384.00" y="315.50" text-anchor="middle">of Kruja</text>
<text class="b" x="440.00" y="298.65">Stefan Vladislav</text>
<text class="r" x="471.20" y="306.45" text-anchor="middle">King of Serbia</text>
<text class="r" x="471.20" y="315.70" text-anchor="middle">(1234-1243)</text>
<text class="n" x="533.75" y="298.65">Beloslava</text>
<text class="g" x="551.00" y="306.70" text-anchor="middle">daughter of Tsar</text>
<text class="g" x="551.00" y="315.70" text-anchor="middle">Ivan Asen II of Bulgaria</text>
<text class="n" x="447.70" y="330.40">Stefan</text>
<text class="n" x="482.30" y="330.40">Desa</text>
<text class="g" x="492.00" y="338.20" text-anchor="middle">Župan</text>
<text class="n" x="522.00" y="330.40">Đura Kačić</text>
<text class="n" x="574.40" y="330.40">(?)</text>
<text class="g" x="542.00" y="338.20" text-anchor="middle">Knez of Omiš</text>
<text class="n" x="595.75" y="298.65">Predislav</text>
<text class="g" x="612.50" y="306.95" text-anchor="middle">Archbishop</text>
<text class="g" x="612.50" y="315.70" text-anchor="middle">of Serbia</text>
<text class="b" x="617.00" y="325.90">Stefan Uroš I</text>
<text class="n" x="685.75" y="325.90">Helen of Anjou</text>
<text class="r" x="640.30" y="346.95" text-anchor="middle">King of Serbia</text>
<text class="r" x="640.30" y="356.45" text-anchor="middle">(1243-1276)</text>
<text class="n" x="274.25" y="330.90">Dragoslav</text>
<text class="n" x="330.00" y="330.90">Jelena</text>
<text class="g" x="291.00" y="338.20" text-anchor="middle">Grand Treasurer</text>
<text class="n" x="264.25" y="362.15">Staniša</text>
<text class="g" x="278.00" y="368.95" text-anchor="middle">Palatine</text>
<text class="n" x="309.50" y="362.15">?</text>
<text class="n" x="238.25" y="394.15">Nikola Stanjević</text>
<text class="g" x="267.00" y="400.95" text-anchor="middle">Grand Duke</text>
<text class="n" x="305.50" y="394.15">Georgije Stanjević</text>
<text class="g" x="339.00" y="400.95" text-anchor="middle">Kefalija of Ierissos</text>
<text class="n" x="328.75" y="362.15">Shishman</text>
<text class="n" x="375.00" y="362.15">Ana</text>
<text class="g" x="346.50" y="368.95" text-anchor="middle">Despot of Vidin</text>
<text class="b" x="15.75" y="447.90">Stefan Dragutin</text>
<text class="r" x="47.50" y="455.20" text-anchor="middle">King of Serbia (1276-1282)</text>
<text class="r" x="47.50" y="463.70" text-anchor="middle">King of Northern Serbia</text>
<text class="r" x="47.50" y="472.20" text-anchor="middle">(1282-1316)</text>
<text class="n" x="103.25" y="447.90">Catalina Arpad</text>
<text class="g" x="130.50" y="455.20" text-anchor="middle">daughter of István V,</text>
<text class="g" x="130.50" y="463.95" text-anchor="middle">King of Hungary</text>
<text class="n" x="5.00" y="479.90">Stefan Kotromanić</text>
<text class="n" x="83.25" y="479.90">Jelisaveta</text>
<text class="g" x="39.10" y="487.20" text-anchor="middle">Ban of Bosnia</text>
<text class="i" x="42.50" y="508.00">Kotromanić dynasty</text>
<text class="n" x="130.00" y="479.90">Pavle Šubić</text>
<text class="n" x="184.00" y="479.90">(?)</text>
<text class="g" x="151.00" y="487.20" text-anchor="middle">Ban of Croatia</text>
<text class="n" x="207.00" y="480.40">Constanza Morosini</text>
<text class="b" x="289.50" y="480.40">Stefan Vladislav II</text>
<text class="n" x="372.50" y="480.40">?</text>
<text class="g" x="243.75" y="487.70" text-anchor="middle">daughter of Michael Morosini</text>
<text class="r" x="334.60" y="514.45" text-anchor="middle">King of Northern Serbia (1316-1321)</text>
<text class="r" x="334.60" y="523.20" text-anchor="middle">Anti-King of Serbia (1321-1325)</text>
<text class="g" x="377.00" y="486.95" text-anchor="middle">daughter of</text>
<text class="g" x="377.00" y="495.20" text-anchor="middle">Laszlo III Kan</text>
<text class="g" x="377.00" y="503.45" text-anchor="middle">of Transylvania</text>
<text class="n" x="403.00" y="479.90">Urošic</text>
<text class="n" x="445.75" y="479.90">?</text>
<text class="n" x="423.25" y="511.15">Voihna</text>
<text class="g" x="435.40" y="518.95" text-anchor="middle">Caesar</text>
<text class="n" x="468.00" y="511.15">?</text>
<text class="n" x="356.25" y="542.90">Uglješa Mrnjavčević</text>
<text class="n" x="440.00" y="542.90">Jelena</text>
<text class="g" x="392.25" y="550.95" text-anchor="middle">Despot, Lord of Serres</text>
<text class="n" x="458.00" y="479.90">Katarina</text>
<text class="n" x="493.25" y="479.90">Margarita</text>
<text class="n" x="532.00" y="479.65">Ursa</text>
<text class="n" x="327.00" y="445.40">Brnča</text>
<text class="b" x="533.00" y="447.90">Stefan Uroš II Milutin</text>
<text class="r" x="572.80" y="455.60" text-anchor="middle">King of Serbia</text>
<text class="r" x="574.00" y="464.30" text-anchor="middle">(1282-1321)</text>
<text class="n" x="650.40" y="443.60">1) Jelena</text>
<text class="n" x="649.70" y="462.60">2) Helena Angelina</text>
<text class="g" x="649.30" y="471.10">daughter of John I, Lord of Thessaly</text>
<text class="n" x="649.70" y="481.50">3) Elisabeth Arpad</text>
<text class="g" x="649.30" y="490.10">daughter of King István V of Hungary</text>
<text class="n" x="649.30" y="499.90">4) Anna Terter</text>
<text class="g" x="649.30" y="508.60">daughter of Tsar George I of Bulgaria</text>
<text class="n" x="649.30" y="518.40">5) Simonis Palaiologina</text>
<text class="g" x="649.30" y="527.10">daughter of Emperor Andronikos II</text>
<text class="n" x="754.80" y="443.60">Stefan</text>
<text class="n" x="607.00" y="562.40">1)</text>
<text class="n" x="619.50" y="575.90">3)</text>
<text class="n" x="639.25" y="562.40">4)</text>
<text class="b" x="165.00" y="594.90">Stefan Uroš III &#x27;Dečanski&#x27;</text>
<text class="r" x="213.00" y="602.20" text-anchor="middle">King of Serbia</text>
<text class="r" x="213.00" y="610.70" text-anchor="middle">(1321-1331)</text>
<text class="n" x="88.00" y="594.90">Teodora Smilets</text>
<text class="g" x="117.75" y="602.70" text-anchor="middle">daughter of Tsar</text>
<text class="g" x="117.75" y="611.45" text-anchor="middle">Smilets of Bulgaria</text>
<text class="n" x="287.50" y="594.90">Maria Palaiologina</text>
<text class="g" x="320.70" y="602.70" text-anchor="middle">daughter of Ioannes</text>
<text class="g" x="320.70" y="611.20" text-anchor="middle">Palaiologos of Thessaloniki</text>
<text class="n" x="503.00" y="594.90">Michael Shishman</text>
<text class="n" x="580.00" y="594.90">Ana</text>
<text class="g" x="536.00" y="602.20" text-anchor="middle">Tsar of Bulgaria</text>
<text class="n" x="583.00" y="628.40">Ivan Stefan</text>
<text class="g" x="603.50" y="636.20" text-anchor="middle">Tsar of Bulgaria</text>
<text class="n" x="638.00" y="628.65">Shishman</text>
<text class="n" x="615.00" y="594.90">Zorica</text>
<text class="b" x="662.00" y="594.90">Stefan Konstantin</text>
<text class="r" x="698.50" y="615.20" text-anchor="middle">Anti-King of Serbia</text>
<text class="r" x="698.50" y="623.95" text-anchor="middle">(1321-1323)</text>
<text class="b" x="8.25" y="628.40">Stefan Uroš IV Dušan</text>
<text class="r" x="50.50" y="635.70" text-anchor="middle">King (1331-1346) and</text>
<text class="r" x="50.50" y="644.70" text-anchor="middle">Emperor (1346-55) of Serbia</text>
<text class="n" x="113.75" y="628.40">Jelena</text>
<text class="g" x="126.50" y="635.70" text-anchor="middle">sister of Tsar</text>
<text class="g" x="126.50" y="644.30" text-anchor="middle">Ivan Alexander</text>
<text class="g" x="126.50" y="652.90" text-anchor="middle">of Bulgaria</text>
<text class="n" x="160.00" y="628.40">Dušman</text>
<text class="b" x="15.00" y="671.65">Stefan Uroš V</text>
<text class="n" x="87.50" y="671.65">Anna Basarab</text>
<text class="r" x="40.50" y="679.70" text-anchor="middle">Emperor of Serbia</text>
<text class="r" x="40.50" y="688.45" text-anchor="middle">(1355-1371)</text>
<text class="g" x="113.60" y="679.70" text-anchor="middle">daughter of Prince</text>
<text class="g" x="113.60" y="688.45" text-anchor="middle">Nicholas of Wallachia</text>
<text class="n" x="151.25" y="671.65">(?)</text>
<text class="b" x="215.00" y="628.40">Simeon Uroš</text>
<text class="n" x="283.25" y="628.40">Thomais Orsini</text>
<text class="g" x="309.50" y="635.70" text-anchor="middle">daughter of John II</text>
<text class="g" x="309.50" y="644.45" text-anchor="middle">Orsini of Epirus</text>
<text class="r" x="239.00" y="648.20" text-anchor="middle">Anti-Emperor of</text>
<text class="r" x="239.00" y="657.20" text-anchor="middle">Serbia (1356-1370)</text>
<text class="n" x="405.00" y="628.40">Mladen III Šubić</text>
<text class="n" x="473.75" y="628.40">Jelena</text>
<text class="g" x="434.25" y="635.70" text-anchor="middle">Lord of Klis</text>
<text class="n" x="452.00" y="672.15">Mladen IV</text>
<text class="g" x="469.50" y="680.20" text-anchor="middle">Lord of Klis</text>
<text class="n" x="509.50" y="628.40">Dejan</text>
<text class="n" x="541.75" y="628.40">Teodora</text>
<text class="g" x="519.00" y="635.30" text-anchor="middle">Despot</text>
<text class="g" x="519.00" y="644.00" text-anchor="middle">Lord of</text>
<text class="g" x="519.00" y="652.70" text-anchor="middle">Žegligovo</text>
<text class="i" x="540.70" y="663.30" text-anchor="middle">Dejanović-Dragaš</text>
<text class="i" x="540.50" y="672.50" text-anchor="middle">noble family</text>
<text class="b" x="169.50" y="671.65">John Uroš</text>
<text class="n" x="227.50" y="671.65">(?)</text>
<text class="r" x="186.50" y="690.70" text-anchor="middle">Anti-Emperor of</text>
<text class="r" x="186.50" y="699.45" text-anchor="middle">Serbia (1370-1373)</text>
<text class="n" x="13.00" y="717.90">Theodore Kantakouzenos</text>
<text class="n" x="115.75" y="717.90">Helena</text>
<text class="n" x="149.25" y="717.90">Constantine</text>
<text class="n" x="201.25" y="717.90">Michael</text>
<text class="n" x="238.00" y="717.90">Asanina</text>
<text class="n" x="275.75" y="717.90">Dmitri</text>
<text class="n" x="245.00" y="671.65">Toma Preljubović</text>
<text class="g" x="275.25" y="680.20" text-anchor="middle">Despot of Epirus</text>
<text class="n" x="317.50" y="671.65">Maria</text>
<text class="n" x="304.50" y="717.90">Irena</text>
<text class="n" x="333.00" y="717.90">Preljub</text>
<text class="n" x="350.00" y="672.15">Stefan &#x27;Doukas&#x27;</text>
<text class="g" x="377.50" y="680.20" text-anchor="middle">Lord of Pharsalos</text>
<text class="n" x="422.50" y="672.15">(?)</text>
<text class="g" x="427.50" y="680.20" text-anchor="middle">daughter</text>
<text class="g" x="427.50" y="688.95" text-anchor="middle">of</text>
<text class="g" x="427.50" y="697.70" text-anchor="middle">Franciz Zorzi</text>
</g></svg></body></html>
